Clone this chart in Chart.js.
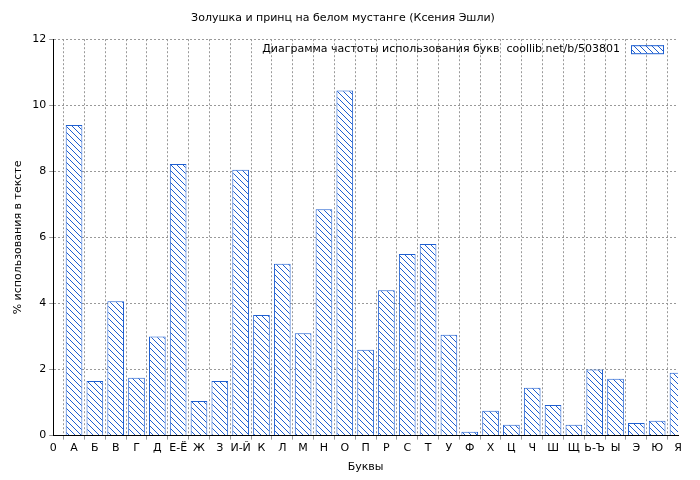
<!DOCTYPE html>
<html><head><meta charset="utf-8">
<script src="https://cdn.jsdelivr.net/npm/chart.js@4"></script>
<style>body{margin:0;background:#fff}#wrap{width:700px;height:480px}</style>
</head><body><div id="wrap"><canvas id="c"></canvas></div>
<script>
const letters = ['0','А','Б','В','Г','Д','Е-Ё','Ж','З','И-Й','К','Л','М','Н','О','П','Р','С','Т','У','Ф','Х','Ц','Ч','Ш','Щ','Ь-Ъ','Ы','Э','Ю','Я']
const freq = [null,9.4,1.65,4.07,1.75,3.0,8.22,1.05,1.65,8.05,3.65,5.2,3.1,6.85,10.45,2.6,4.4,5.5,5.8,3.05,0.12,0.75,0.33,1.45,0.93,0.33,2.0,1.72,0.38,0.45,1.9]
const legendText = 'Диаграмма частоты использования букв  coollib.net/b/503801'

function hatch(){
  let p = document.createElement('canvas'); p.width = 6; p.height = 6
  let g = p.getContext('2d')
  g.fillStyle = '#fff'; g.fillRect(0,0,6,6)
  g.strokeStyle = '#1f5fd0'; g.lineWidth = 1
  g.beginPath(); g.moveTo(0,0); g.lineTo(6,6); g.moveTo(-3,3); g.lineTo(3,9); g.moveTo(3,-3); g.lineTo(9,3); g.stroke()
  return g.createPattern(p,'repeat')
}
const pat = hatch()
Chart.defaults.font.family = 'DejaVu Sans'
Chart.defaults.font.size = 11
Chart.defaults.color = '#000'

const legendPlugin = {
  id: 'lg',
  afterDraw(chart){
    let ctx = chart.ctx, a = chart.chartArea
    ctx.save()
    ctx.font = '11px DejaVu Sans'; ctx.fillStyle = '#000'; ctx.textAlign = 'right'; ctx.textBaseline = 'middle'
    ctx.fillText(legendText, a.right - 58, a.top + 10)
    ctx.fillStyle = pat; ctx.fillRect(a.right - 46, a.top + 6, 32, 8)
    ctx.strokeStyle = '#1f5fd0'; ctx.strokeRect(a.right - 46.5, a.top + 6.5, 32, 8)
    ctx.restore()
  }
}

new Chart(document.getElementById('c'), {
  type: 'bar',
  data: { labels: letters, datasets: [{ data: freq, backgroundColor: pat, borderColor: '#1f5fd0', borderWidth: 1, barPercentage: 0.8, categoryPercentage: 1 }] },
  options: {
    responsive: true, maintainAspectRatio: false, animation: false,
    layout: { padding: { right: 22, top: 4, left: 8, bottom: 2 } },
    plugins: {
      legend: { display: false },
      tooltip: { enabled: false },
      title: { display: true, text: 'Золушка и принц на белом мустанге (Ксения Эшли)', font: { size: 11, weight: 'normal' }, padding: { top: 8, bottom: 14 } }
    },
    scales: {
      x: { offset: false, grid: { color: '#999', tickLength: 4 }, border: { color: '#000', dash: [2,2] },
           ticks: { maxRotation: 0, autoSkip: false, padding: 2 },
           title: { display: true, text: 'Буквы', padding: { top: 4 } } },
      y: { min: 0, max: 12, grid: { color: '#999', tickLength: 4 }, border: { color: '#000', dash: [2,2] },
           ticks: { stepSize: 2 },
           title: { display: true, text: '% использования в тексте' } }
    }
  },
  plugins: [legendPlugin]
})
</script></body></html>
